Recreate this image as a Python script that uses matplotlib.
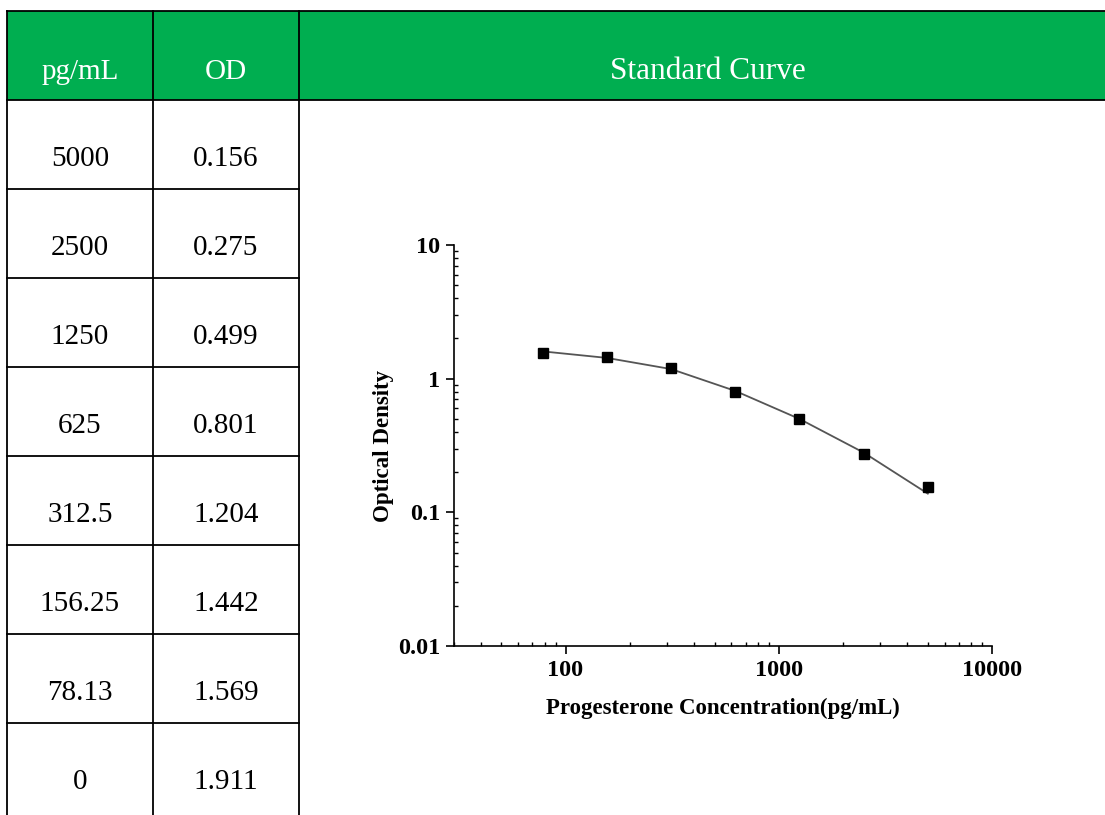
import matplotlib
matplotlib.use("Agg")
import matplotlib.pyplot as plt
from matplotlib.patches import Rectangle
from matplotlib.ticker import FixedLocator, FixedFormatter, LogLocator, NullFormatter

# ---------------- data ----------------
header_labels = ["pg/mL", "OD", "Standard Curve"]
conc_labels = ["5000", "2500", "1250", "625", "312.5", "156.25", "78.13", "0"]
od_labels = ["0.156", "0.275", "0.499", "0.801", "1.204", "1.442", "1.569", "1.911"]

conc = [5000, 2500, 1250, 625, 312.5, 156.25, 78.13]
od = [0.156, 0.275, 0.499, 0.801, 1.204, 1.442, 1.569]
curve_x = [78.13, 156.25, 312.5, 625, 1250, 2500, 5000]
curve_y = [1.60, 1.43, 1.18, 0.81, 0.50, 0.28, 0.138]

x_ticks = [100, 1000, 10000]
x_ticklabels = ["100", "1000", "10000"]
y_ticks = [0.01, 0.1, 1, 10]
y_ticklabels = ["0.01", "0.1", "1", "10"]

GREEN = "#00ae50"
W, H = 1105, 815
plt.rcParams['font.family'] = ['Liberation Serif', 'DejaVu Serif']

fig = plt.figure(figsize=(W / 100, H / 100), dpi=100)

# ---------------- table (pixel coordinates) ----------------
bg = fig.add_axes([0, 0, 1, 1])
bg.set_xlim(0, W)
bg.set_ylim(H, 0)
bg.axis("off")

x0, x1, x2, xr = 7, 153, 299, 1118
y_top, row_h = 10.7, 89.0
hdr_bot = y_top + row_h
lw = 1.3

bg.add_patch(Rectangle((x0, y_top), xr - x0, row_h, facecolor=GREEN, edgecolor="none", zorder=1))
# horizontal lines
bg.plot([x0, xr], [y_top, y_top], color="black", lw=lw, zorder=3)
bg.plot([x0, xr], [hdr_bot, hdr_bot], color="black", lw=lw, zorder=3)
n_rows = len(conc_labels)
for i in range(1, n_rows):
    yy = hdr_bot + i * row_h
    bg.plot([x0, x2], [yy, yy], color="black", lw=lw, zorder=3)
# vertical lines
for xx in (x0, x1, x2):
    bg.plot([xx, xx], [y_top, H + 5], color="black", lw=lw, zorder=3)

# header text
hdr_centers = [(x0 + x1) / 2, (x1 + x2) / 2, 708]
hdr_sizes = [21, 21, 22.5]
for cx, lab, fs in zip(hdr_centers, header_labels, hdr_sizes):
    bg.text(cx, y_top + 68, lab, color="white", fontsize=fs, ha="center", va="baseline", zorder=4)

for i, (c, o) in enumerate(zip(conc_labels, od_labels)):
    base = hdr_bot + i * row_h + 66
    bg.text((x0 + x1) / 2, base, c, color="black", fontsize=21, ha="center", va="baseline", zorder=4)
    bg.text((x1 + x2) / 2, base, o, color="black", fontsize=21, ha="center", va="baseline", zorder=4)

# ---------------- chart ----------------
L, R, T, B = 454, 992, 245, 646
ax = fig.add_axes([L / W, (H - B) / H, (R - L) / W, (B - T) / H])
ax.set_xscale("log")
ax.set_yscale("log")
ax.set_xlim(30, 10000)
ax.set_ylim(0.01, 10)

ax.plot(curve_x, curve_y, color="#555555", lw=1.3, zorder=2)
ax.plot(conc, od, linestyle="none", marker="s", markersize=6.5, color="black", zorder=3)

for s in ("top", "right"):
    ax.spines[s].set_visible(False)
for s in ("left", "bottom"):
    ax.spines[s].set_linewidth(1.2)

ax.xaxis.set_major_locator(FixedLocator(x_ticks))
ax.xaxis.set_major_formatter(FixedFormatter(x_ticklabels))
ax.yaxis.set_major_locator(FixedLocator(y_ticks))
ax.yaxis.set_major_formatter(FixedFormatter(y_ticklabels))
ax.xaxis.set_minor_locator(LogLocator(base=10, subs=range(2, 10)))
ax.yaxis.set_minor_locator(LogLocator(base=10, subs=range(2, 10)))
ax.xaxis.set_minor_formatter(NullFormatter())
ax.yaxis.set_minor_formatter(NullFormatter())

ax.tick_params(which="major", direction="out", length=6, width=1.2, pad=4)
ax.tick_params(which="minor", direction="in", length=3, width=1.0)
for lab in ax.get_xticklabels() + ax.get_yticklabels():
    lab.set_fontweight("bold")
    lab.set_fontsize(17.5)

ax.set_xlabel("Progesterone Concentration(pg/mL)", fontsize=16.5, fontweight="bold", labelpad=12)
ax.set_ylabel("Optical Density", fontsize=16.5, fontweight="bold", labelpad=3)

fig.savefig("out.png", dpi=100)
